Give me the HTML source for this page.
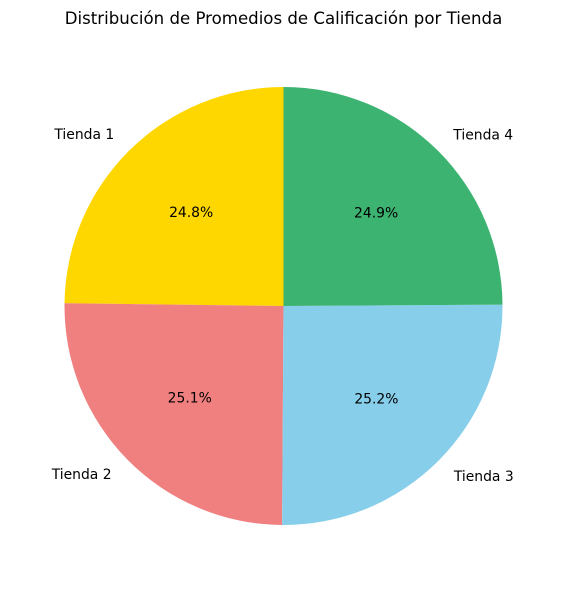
<!DOCTYPE html>
<html><head><meta charset="utf-8">
<style>
html,body{margin:0;padding:0;background:#fff;}
svg{display:block;font-family:"DejaVu Sans","Liberation Sans",sans-serif;}
</style></head>
<body>
<svg id="chart" width="567" height="590" viewBox="0 0 567 590">
<text x="283.5" y="24" text-anchor="middle" font-size="16.6" fill="#000">Distribución de Promedios de Calificación por Tienda</text>
<g id="slices"></g>
</svg>
<script>
const categories = ["Tienda 1", "Tienda 2", "Tienda 3", "Tienda 4"];
const values = [24.8, 25.1, 25.2, 24.9];
const colors = ["#ffd700", "#f08080", "#87ceeb", "#3cb371"];

const cx = 283.5, cy = 306, r = 219;
const g = document.getElementById('slices');
const NS = "http://www.w3.org/2000/svg";
const total = values.reduce((a, b) => a + b, 0);
let ang = 90;
function pt(a, rr) { const t = a * Math.PI / 180; return [cx + rr * Math.cos(t), cy - rr * Math.sin(t)]; }
values.forEach((v, i) => {
  const sweep = v / total * 360;
  const a0 = ang, a1 = ang + sweep;
  const p0 = pt(a0, r), p1 = pt(a1, r);
  const path = document.createElementNS(NS, 'path');
  path.setAttribute('d', `M${cx},${cy} L${p0[0]},${p0[1]} A${r},${r} 0 ${sweep > 180 ? 1 : 0} 0 ${p1[0]},${p1[1]} Z`);
  path.setAttribute('fill', colors[i]);
  
  
  g.appendChild(path);
  const mid = (a0 + a1) / 2;
  const lp = pt(mid, r * 1.1);
  const lab = document.createElementNS(NS, 'text');
  const c = Math.cos(mid * Math.PI / 180);
  lab.setAttribute('x', lp[0]);
  lab.setAttribute('y', lp[1] + 4.5);
  lab.setAttribute('text-anchor', c < 0 ? 'end' : 'start');
  lab.setAttribute('font-size', '13.9');
  lab.textContent = categories[i];
  
  
  g.appendChild(lab);
  const pp = pt(mid, r * 0.6);
  const pct = document.createElementNS(NS, 'text');
  pct.setAttribute('x', pp[0]);
  pct.setAttribute('y', pp[1] + 4.5);
  pct.setAttribute('text-anchor', 'middle');
  pct.setAttribute('font-size', '13.9');
  pct.textContent = (v / total * 100).toFixed(1) + '%';
  
  
  g.appendChild(pct);
  ang = a1;
});
</script>
</body></html>
